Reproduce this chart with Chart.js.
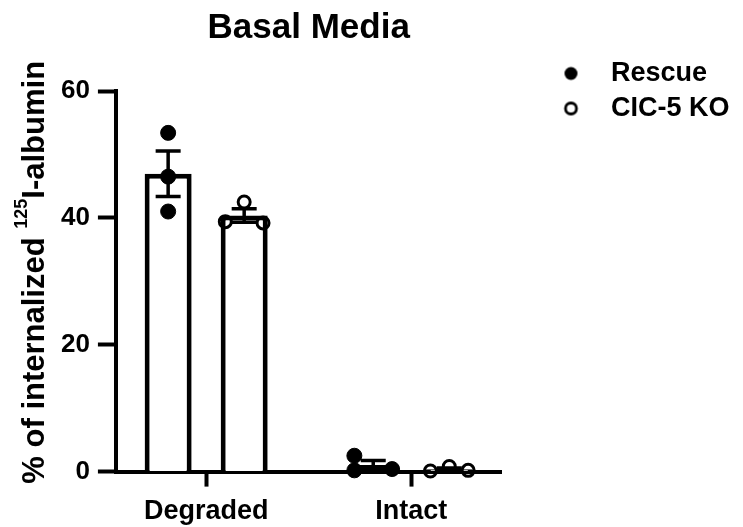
<!DOCTYPE html>
<html>
<head>
<meta charset="utf-8">
<script src="https://cdn.jsdelivr.net/npm/chart.js@4.4.0/dist/chart.umd.min.js"></script>
<style>
  html, body { margin: 0; padding: 0; background: #ffffff; }
  #wrap { width: 743px; height: 527px; }
</style>
</head>
<body>
<div id="wrap"><canvas id="chart" width="743" height="527"></canvas></div>
<script>
// ---- data ----
const categories = ['Degraded', 'Intact'];
const seriesNames = ['Rescue', 'CIC-5 KO'];
const rescueDegraded = [53.4, 46.5, 41.0];
const rescueIntact = [2.5, 0.2, 0.4];
const koDegraded = [42.5, 39.4, 39.2];
const koIntact = [0.1, 0.8, 0.2];
const yTicks = [0, 20, 40, 60];
const chartTitle = 'Basal Media';
const yTitleParts = ['% of internalized ', '125', 'I-albumin'];

// replicates per series, per category
const replicates = [
  [rescueDegraded, rescueIntact],
  [koDegraded, koIntact]
];

// ---- layout / style ----
const FONT = '"Liberation Sans", Arial, Helvetica, sans-serif';
const CAT_PCT = 0.7415;
const BAR_PCT = 0.618;
const SPREAD = 0.092;            // sideways step for overlapping dots, in category units
const spreadPattern = [
  [[0, 0, 0], [-1, -1, 1]],
  [[0, -1, 1], [-1, 0, 1]]
];

const mean = a => a.reduce((s, v) => s + v, 0) / a.length;
const sem = a => {
  const m = mean(a);
  const sd = Math.sqrt(a.reduce((s, v) => s + (v - m) ** 2, 0) / (a.length - 1));
  return sd / Math.sqrt(a.length);
};
const groupOffset = s => (s - (seriesNames.length - 1) / 2) * CAT_PCT / seriesNames.length;

const datasets = [];
seriesNames.forEach((name, s) => {
  datasets.push({
    type: 'bar',
    label: name,
    data: categories.map((c, i) => ({ x: i, y: mean(replicates[s][i]) })),
    errorBars: categories.map((c, i) => {
      const m = mean(replicates[s][i]), e = sem(replicates[s][i]);
      return { lo: m - e, hi: m + e };
    }),
    backgroundColor: '#ffffff',
    borderColor: '#000000',
    borderWidth: 5,
    borderSkipped: 'start',
    categoryPercentage: CAT_PCT,
    barPercentage: BAR_PCT,
    order: 2,
    clip: false
  });
});
seriesNames.forEach((name, s) => {
  const pts = [];
  categories.forEach((c, i) => {
    replicates[s][i].forEach((v, k) => {
      pts.push({ x: i + groupOffset(s) + spreadPattern[s][i][k] * SPREAD, y: v });
    });
  });
  datasets.push({
    type: 'scatter',
    label: name,
    data: pts,
    pointStyle: 'circle',
    pointRadius: s === 0 ? 7.5 : 6,
    pointBackgroundColor: s === 0 ? '#000000' : 'rgba(0,0,0,0)',
    pointBorderColor: '#000000',
    pointBorderWidth: s === 0 ? 1 : 3,
    order: 1,
    clip: false
  });
});

// legend markers: filled and open circle
function legendIcon(filled) {
  const c = document.createElement('canvas');
  c.width = 52; c.height = 20;
  const g = c.getContext('2d');
  g.beginPath();
  g.arc(43.5, 10, filled ? 6.5 : 5.5, 0, Math.PI * 2);
  if (filled) { g.fillStyle = '#000'; g.fill(); }
  else { g.lineWidth = 2.8; g.strokeStyle = '#000'; g.stroke(); }
  return c;
}
const legendIcons = [legendIcon(true), legendIcon(false)];

// mean ± SEM whiskers, drawn right after each bar dataset
const errorBarPlugin = {
  id: 'errorBars',
  afterDatasetDraw(chart, args) {
    const ds = chart.data.datasets[args.index];
    if (!ds.errorBars) return;
    const ctx = chart.ctx, yS = chart.scales.y;
    const half = 12.5;
    ctx.save();
    ctx.strokeStyle = '#000';
    ctx.lineWidth = 3.5;
    args.meta.data.forEach((bar, j) => {
      const e = ds.errorBars[j];
      const yHi = yS.getPixelForValue(e.hi), yLo = yS.getPixelForValue(e.lo);
      ctx.beginPath();
      ctx.moveTo(bar.x, yHi); ctx.lineTo(bar.x, yLo);
      ctx.moveTo(bar.x - half, yHi); ctx.lineTo(bar.x + half, yHi);
      ctx.moveTo(bar.x - half, yLo); ctx.lineTo(bar.x + half, yLo);
      ctx.stroke();
    });
    ctx.restore();
  }
};

// rotated y-axis title with a superscript isotope number
const yTitlePlugin = {
  id: 'yTitle',
  afterDraw(chart) {
    const ctx = chart.ctx, area = chart.chartArea;
    const big = 'bold 31px ' + FONT, small = 'bold 18px ' + FONT;
    ctx.save();
    ctx.font = big; const w1 = ctx.measureText(yTitleParts[0]).width;
    const w3 = ctx.measureText(yTitleParts[2]).width;
    ctx.font = small; const w2 = ctx.measureText(yTitleParts[1]).width;
    const total = w1 + w2 + w3;
    const bx = area.left - 72;
    const cy = (area.top + area.bottom) / 2 - 9;
    ctx.translate(bx, cy);
    ctx.rotate(-Math.PI / 2);
    ctx.fillStyle = '#000';
    ctx.textBaseline = 'alphabetic';
    ctx.textAlign = 'left';
    let x = -total / 2;
    ctx.font = big; ctx.fillText(yTitleParts[0], x, 0); x += w1;
    ctx.font = small; ctx.fillText(yTitleParts[1], x, -17); x += w2;
    ctx.font = big; ctx.fillText(yTitleParts[2], x, 0);
    ctx.restore();
  }
};

const tickFont = { family: FONT, size: 26, weight: 'bold' };

new Chart(document.getElementById('chart'), {
  type: 'bar',
  data: { datasets },
  options: {
    responsive: false,
    animation: false,
    events: [],
    layout: { padding: { left: 53, right: 3.5, top: 0, bottom: -10 } },
    plugins: {
      title: {
        display: true,
        text: chartTitle,
        fullSize: false,
        color: '#000',
        font: { family: FONT, size: 35, weight: 'bold' },
        padding: { top: 7, bottom: 42 }
      },
      legend: {
        position: 'right',
        align: 'start',
        maxWidth: 260,
        title: { display: true, text: ' ', font: { size: 12 }, padding: { top: 37.6, bottom: 0 } },
        labels: {
          color: '#000',
          font: { family: FONT, size: 27, weight: 'bold' },
          usePointStyle: true,
          pointStyleWidth: 88,
          padding: 8,
          generateLabels: () => seriesNames.map((n, s) => ({
            text: n,
            pointStyle: legendIcons[s],
            fontColor: '#000',
            hidden: false,
            lineWidth: 0,
            datasetIndex: seriesNames.length + s
          }))
        }
      },
      tooltip: { enabled: false }
    },
    scales: {
      x: {
        type: 'linear',
        offset: false,
        min: -0.44,
        max: 1.44,
        afterBuildTicks: sc => { sc.ticks = categories.map((c, i) => ({ value: i })); },
        ticks: {
          callback: v => categories[v] ?? '',
          color: '#000',
          font: { family: FONT, size: 27, weight: 'bold' },
          padding: 9,
          autoSkip: false,
          maxRotation: 0
        },
        grid: { offset: false, drawOnChartArea: false, tickLength: 15, tickWidth: 4, color: '#000' },
        border: { color: '#000', width: 4 }
      },
      y: {
        min: 0,
        max: 60,
        afterBuildTicks: sc => { sc.ticks = yTicks.map(v => ({ value: v })); },
        ticks: { color: '#000', font: tickFont, padding: 8 },
        grid: { drawOnChartArea: false, tickLength: 18, tickWidth: 4, color: '#000' },
        border: { color: '#000', width: 4 }
      }
    }
  },
  plugins: [errorBarPlugin, yTitlePlugin]
});
</script>
</body>
</html>
